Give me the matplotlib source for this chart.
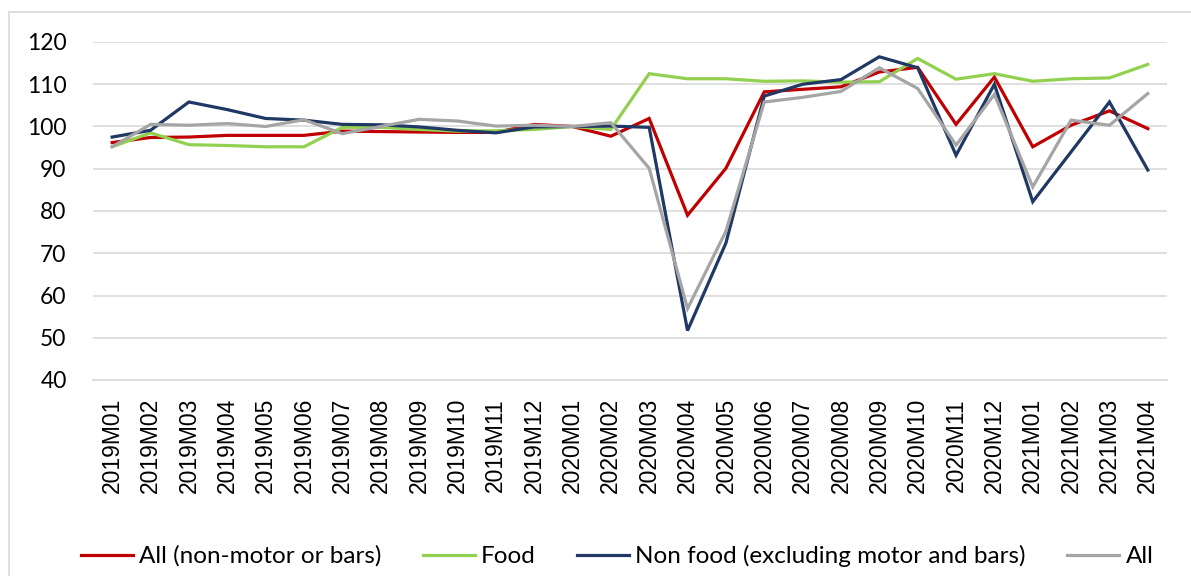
import matplotlib.pyplot as plt
from matplotlib.patches import Rectangle

# Monthly periods on the x axis
months = ['2019M01', '2019M02', '2019M03', '2019M04', '2019M05', '2019M06',
          '2019M07', '2019M08', '2019M09', '2019M10', '2019M11', '2019M12',
          '2020M01', '2020M02', '2020M03', '2020M04', '2020M05', '2020M06',
          '2020M07', '2020M08', '2020M09', '2020M10', '2020M11', '2020M12',
          '2021M01', '2021M02', '2021M03', '2021M04']

# Index values (2020M01 = 100)
all_non_motor = [96.2, 97.4, 97.5, 97.9, 97.9, 97.9, 98.9, 98.8, 98.7, 98.6,
                 98.6, 100.5, 100.0, 97.7, 101.9, 79.0, 90.1, 108.2, 108.8,
                 109.4, 112.9, 114.0, 100.5, 111.7, 95.2, 100.3, 103.7, 99.5]
food = [95.2, 98.5, 95.7, 95.5, 95.2, 95.2, 99.8, 99.8, 99.3, 98.9,
        99.0, 99.3, 100.0, 99.3, 112.5, 111.3, 111.3, 110.7, 110.8,
        110.5, 110.6, 116.1, 111.2, 112.5, 110.7, 111.3, 111.5, 114.7]
non_food = [97.5, 99.1, 105.8, 104.0, 101.9, 101.5, 100.5, 100.4, 99.9, 99.1,
            98.5, 99.9, 100.0, 100.1, 99.8, 51.7, 72.4, 107.2, 110.0,
            111.1, 116.5, 113.9, 93.2, 110.0, 82.2, 94.0, 105.8, 89.7]
all_retail = [95.2, 100.5, 100.3, 100.7, 100.0, 101.6, 98.3, 100.0, 101.7, 101.3,
              100.1, 100.3, 100.0, 100.9, 90.1, 56.9, 75.2, 105.8, 106.9,
              108.3, 113.9, 109.0, 95.6, 107.6, 85.7, 101.5, 100.3, 107.8]

series_names = ['All (non-motor or bars)', 'Food',
                'Non food (excluding motor and bars)', 'All']
colors = ['#C00000', '#92D050', '#203864', '#A5A5A5']

fig = plt.figure(figsize=(11.91, 5.76), dpi=100)
ax = fig.add_axes([93 / 1191, 1 - 380 / 576, (1167 - 93) / 1191, (380 - 42) / 576])

# light outer border like the Excel chart area
fig.patches.append(Rectangle((9 / 1191, -0.1), 1.2, 1 - 12 / 576 + 0.1,
                             transform=fig.transFigure, fill=False,
                             edgecolor='#D9D9D9', linewidth=1.2))

x = list(range(len(months)))
for values, name, color in zip([all_non_motor, food, non_food, all_retail],
                               series_names, colors):
    ax.plot(x, values, color=color, linewidth=2.3, label=name,
            solid_joinstyle='miter')

ax.set_xlim(-0.5, len(months) - 0.5)
ax.set_ylim(40, 120)
ax.set_yticks(range(40, 121, 10))
ax.set_xticks(x)
ax.set_xticklabels(months, rotation=90, fontsize=16.5, family='Liberation Sans')
for lbl in ax.get_yticklabels():
    lbl.set_family('Lato')
    lbl.set_fontsize(16.5)

ax.grid(axis='y', color='#D9D9D9', linewidth=1.2)
ax.set_axisbelow(True)
for side in ['top', 'right', 'left']:
    ax.spines[side].set_visible(False)
ax.spines['bottom'].set_color('#D9D9D9')
ax.spines['bottom'].set_linewidth(1.2)
ax.tick_params(axis='both', length=0)
ax.tick_params(axis='y', pad=19)
ax.tick_params(axis='x', pad=13)

fig.legend(loc='center', bbox_to_anchor=(617 / 1191, 1 - 556 / 576), ncol=4,
           frameon=False, prop={'family': 'Lato', 'size': 17.5},
           handlelength=2.15, handletextpad=0.25, columnspacing=1.7)

fig.savefig('out.png', dpi=100)
